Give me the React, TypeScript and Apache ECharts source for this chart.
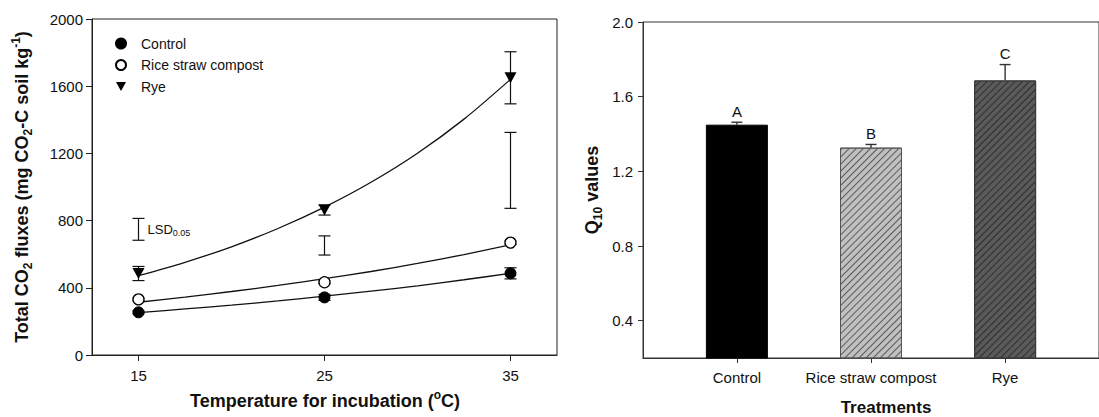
import React, { useEffect, useRef } from "react";
import * as echarts from "echarts";

// ---------- Left panel data ----------
const temps = [15, 25, 35];
const tempTicks = [15, 25, 35];
const controlMean = [254, 343, 486];
const controlErr = [8, 18, 33];
const riceMean = [331, 433, 669];
const riceErr = [8, 8, 10];
const ryeMean = [485, 863, 1650];
const ryeErr = [42, 30, 155];
// fitted exponential curves
const fitTemps = [15, 17.5, 20, 22.5, 25, 27.5, 30, 32.5, 35];
const controlFit = [252, 274, 297, 322, 350, 380, 412, 448, 486];
const riceFit = [314, 344, 378, 414, 454, 497, 545, 598, 656];
const ryeFit = [472, 552, 644, 753, 880, 1028, 1201, 1404, 1641];
// LSD 0.05 bars
const lsdTemps = [15, 25, 35];
const lsdCenter = [748, 652, 1099];
const lsdHalf = [65, 57, 226];

// ---------- Right panel data ----------
const treatments = ["Control", "Rice straw compost", "Rye"];
const q10 = [1.45, 1.327, 1.687];
const q10Err = [0.013, 0.017, 0.085];
const letters = ["A", "B", "C"];
const q10Ticks = [0.4, 0.8, 1.2, 1.6, 2.0];

const FONT = "'Liberation Sans', Arial, sans-serif";
const TXT = "#111";

const errRender = (hw: number) => (params: any, api: any) => {
  const x = api.value(0);
  const y = api.value(1);
  const e = api.value(2);
  const top = api.coord([x, y + e]);
  const bot = api.coord([x, y - e]);
  const st = { stroke: "#111", lineWidth: 1.2 };
  return {
    type: "group",
    children: [
      { type: "line", shape: { x1: top[0], y1: top[1], x2: bot[0], y2: bot[1] }, style: st },
      { type: "line", shape: { x1: top[0] - hw, y1: top[1], x2: top[0] + hw, y2: top[1] }, style: st },
      { type: "line", shape: { x1: bot[0] - hw, y1: bot[1], x2: bot[0] + hw, y2: bot[1] }, style: st },
    ],
  };
};

const lsdRender = (params: any, api: any) => {
  const x = api.value(0);
  const y = api.value(1);
  const e = api.value(2);
  const top = api.coord([x, y + e]);
  const bot = api.coord([x, y - e]);
  const mid = api.coord([x, y]);
  const st = { stroke: "#111", lineWidth: 1.2 };
  const hw = 6;
  const children: any[] = [
    { type: "line", shape: { x1: top[0], y1: top[1], x2: bot[0], y2: bot[1] }, style: st },
    { type: "line", shape: { x1: top[0] - hw, y1: top[1], x2: top[0] + hw, y2: top[1] }, style: st },
    { type: "line", shape: { x1: bot[0] - hw, y1: bot[1], x2: bot[0] + hw, y2: bot[1] }, style: st },
  ];
  if (params.dataIndex === 0) {
    children.push({
      type: "text",
      x: mid[0] + 9,
      y: mid[1],
      style: {
        text: "{m|LSD}{s|0.05}",
        align: "left",
        verticalAlign: "middle",
        rich: {
          m: { fontSize: 13, fontFamily: FONT, fill: TXT, lineHeight: 16, verticalAlign: "middle" },
          s: { fontSize: 9, fontFamily: FONT, fill: TXT, lineHeight: 4, verticalAlign: "bottom" },
        },
      },
    });
  }
  return { type: "group", children };
};

const q10ErrRender = (params: any, api: any) => {
  const x = api.value(0);
  const y = api.value(1);
  const e = api.value(2);
  const top = api.coord([x, y + e]);
  const base = api.coord([x, y]);
  const st = { stroke: "#333", lineWidth: 1.4 };
  const hw = 5.5;
  return {
    type: "group",
    children: [
      { type: "line", shape: { x1: top[0], y1: top[1], x2: base[0], y2: base[1] }, style: st },
      { type: "line", shape: { x1: top[0] - hw, y1: top[1], x2: top[0] + hw, y2: top[1] }, style: st },
      {
        type: "text",
        x: top[0],
        y: top[1] - 11,
        style: {
          text: letters[params.dataIndex],
          fontSize: 15,
          fontFamily: FONT,
          fill: TXT,
          align: "center",
          verticalAlign: "middle",
        },
      },
    ],
  };
};

const titleRich = {
  b: { fontSize: 18, fontWeight: "bold", fontFamily: FONT, fill: TXT, lineHeight: 24, verticalAlign: "middle" },
  s: { fontSize: 12, fontWeight: "bold", fontFamily: FONT, fill: TXT, lineHeight: 12, verticalAlign: "bottom" },
  p: { fontSize: 12, fontWeight: "bold", fontFamily: FONT, fill: TXT, lineHeight: 12, verticalAlign: "top" },
};

const TRI = "path://M0,0 L12,0 L6,11 Z";

export default function App() {
  const ref = useRef<HTMLDivElement>(null);
  useEffect(() => {
    if (!ref.current) return;
    const chart = echarts.init(ref.current, null, { renderer: "svg" });
    const axisLineStyle = { color: "#222", width: 1 };
    const option: any = {
      animation: false,
      backgroundColor: "#fff",
      grid: [
        { left: 92, top: 19, right: 542, bottom: 62, show: true, borderColor: "#222", borderWidth: 1, backgroundColor: "transparent" },
        { left: 643, top: 22, right: -10, bottom: 59, show: true, borderColor: "#333", borderWidth: 1, backgroundColor: "transparent" },
      ],
      legend: {
        left: 115,
        top: 36.5,
        orient: "vertical",
        padding: 0,
        itemWidth: 10,
        itemHeight: 10,
        itemGap: 7.5,
        data: treatments,
        textStyle: { fontSize: 14, color: TXT, fontFamily: FONT, padding: [0, 0, 0, 10] },
      },
      xAxis: [
        {
          gridIndex: 0,
          type: "value",
          min: 12.5,
          max: 37.5,
          axisLine: { show: true, onZero: false, lineStyle: axisLineStyle },
          axisTick: { show: true, length: 6, customValues: tempTicks, lineStyle: axisLineStyle },
          axisLabel: { customValues: tempTicks, fontSize: 15, color: TXT, fontFamily: FONT, margin: 13 },
          splitLine: { show: false },
        },
        {
          gridIndex: 1,
          type: "value",
          min: 0.3,
          max: 3.7,
          axisLine: { show: true, onZero: false, lineStyle: { color: "#333", width: 1 } },
          axisTick: { show: true, length: 5, customValues: [1, 2, 3], lineStyle: { color: "#333" } },
          axisLabel: {
            customValues: [1, 2, 3],
            formatter: (v: number) => treatments[Math.round(v) - 1] || "",
            fontSize: 15,
            color: TXT,
            fontFamily: FONT,
            margin: 12,
          },
          splitLine: { show: false },
        },
      ],
      yAxis: [
        {
          gridIndex: 0,
          type: "value",
          min: 0,
          max: 2000,
          interval: 400,
          axisLine: { show: true, onZero: false, lineStyle: axisLineStyle },
          axisTick: { show: true, length: 6, lineStyle: axisLineStyle },
          axisLabel: { fontSize: 15, color: TXT, fontFamily: FONT, margin: 9, formatter: (v: number) => String(v) },
          splitLine: { show: false },
        },
        {
          gridIndex: 1,
          type: "value",
          min: 0.2,
          max: 2.0,
          interval: 0.2,
          axisLine: { show: true, onZero: false, lineStyle: { color: "#333", width: 1 } },
          axisTick: { show: true, length: 5, customValues: q10Ticks, lineStyle: { color: "#333" } },
          axisLabel: {
            customValues: q10Ticks,
            formatter: (v: number) => v.toFixed(1),
            fontSize: 15,
            color: TXT,
            fontFamily: FONT,
            margin: 10,
          },
          splitLine: { show: false },
        },
      ],
      graphic: [
        {
          type: "text",
          x: 22,
          y: 187,
          rotation: Math.PI / 2,
          style: {
            text: "{b|Total CO}{s|2}{b| fluxes (mg CO}{s|2}{b|-C soil kg}{p|-1}{b|)}",
            rich: titleRich,
            align: "center",
            verticalAlign: "middle",
          },
        },
        {
          type: "text",
          x: 325,
          y: 401,
          style: {
            text: "{b|Temperature for incubation (}{p|o}{b|C)}",
            rich: titleRich,
            align: "center",
            verticalAlign: "middle",
          },
        },
        {
          type: "text",
          x: 592,
          y: 190,
          rotation: Math.PI / 2,
          style: {
            text: "{b|Q}{s|10}{b| values}",
            rich: titleRich,
            align: "center",
            verticalAlign: "middle",
          },
        },
        {
          type: "text",
          x: 886,
          y: 407,
          style: {
            text: "{b|Treatments}",
            rich: { b: { ...titleRich.b, fontSize: 17 } },
            align: "center",
            verticalAlign: "middle",
          },
        },
      ],
      series: [
        // fitted curves
        ...[controlFit, riceFit, ryeFit].map((fit, k) => ({
          name: "fit" + k,
          type: "line",
          xAxisIndex: 0,
          yAxisIndex: 0,
          smooth: 0.3,
          showSymbol: false,
          symbol: "none",
          lineStyle: { color: "#111", width: 1.3 },
          data: fitTemps.map((t, i) => [t, fit[i]]),
          z: 1,
        })),
        // error bars
        ...[
          [controlMean, controlErr],
          [riceMean, riceErr],
          [ryeMean, ryeErr],
        ].map(([m, e], k) => ({
          name: "err" + k,
          type: "custom",
          xAxisIndex: 0,
          yAxisIndex: 0,
          renderItem: errRender(6),
          encode: { x: 0, y: 1 },
          data: temps.map((t, i) => [t, m[i], e[i]]),
          z: 2,
        })),
        {
          name: "lsd",
          type: "custom",
          xAxisIndex: 0,
          yAxisIndex: 0,
          renderItem: lsdRender,
          encode: { x: 0, y: 1 },
          data: lsdTemps.map((t, i) => [t, lsdCenter[i], lsdHalf[i]]),
          z: 2,
        },
        {
          name: "Control",
          type: "scatter",
          xAxisIndex: 0,
          yAxisIndex: 0,
          symbol: "circle",
          symbolSize: 11,
          itemStyle: { color: "#000", borderColor: "#000", borderWidth: 1, opacity: 1 },
          data: temps.map((t, i) => [t, controlMean[i]]),
          z: 3,
        },
        {
          name: "Rice straw compost",
          type: "scatter",
          xAxisIndex: 0,
          yAxisIndex: 0,
          symbol: "circle",
          symbolSize: 11,
          itemStyle: { color: "#fff", borderColor: "#000", borderWidth: 1.3, opacity: 1 },
          data: temps.map((t, i) => [t, riceMean[i]]),
          z: 3,
        },
        {
          name: "Rye",
          type: "scatter",
          xAxisIndex: 0,
          yAxisIndex: 0,
          symbol: TRI,
          symbolSize: [12, 11],
          itemStyle: { color: "#000", opacity: 1 },
          data: temps.map((t, i) => [t, ryeMean[i]]),
          z: 3,
        },
        // right panel bars
        {
          name: "Q10",
          type: "bar",
          xAxisIndex: 1,
          yAxisIndex: 1,
          barWidth: 62,
          data: q10.map((v, i) => ({
            value: [i + 1, v],
            itemStyle: [
              { color: "#000", borderColor: "#000", borderWidth: 1 },
              {
                color: "#c0c0c0",
                borderColor: "#555",
                borderWidth: 1,
                decal: { symbol: "rect", symbolSize: 1, color: "#5a5a5a", dashArrayX: [1, 0], dashArrayY: [1, 4], rotation: -Math.PI / 4 },
              },
              {
                color: "#5a5a5a",
                borderColor: "#3a3a3a",
                borderWidth: 1,
                decal: { symbol: "rect", symbolSize: 1, color: "#2e2e2e", dashArrayX: [1, 0], dashArrayY: [1, 4], rotation: -Math.PI / 4 },
              },
            ][i],
          })),
          z: 2,
        },
        {
          name: "Q10err",
          type: "custom",
          xAxisIndex: 1,
          yAxisIndex: 1,
          renderItem: q10ErrRender,
          encode: { x: 0, y: 1 },
          data: q10.map((v, i) => [i + 1, v, q10Err[i]]),
          z: 3,
        },
      ],
    };
    chart.setOption(option);
    return () => chart.dispose();
  }, []);
  return (
    <div
      ref={ref}
      style={{ position: "absolute", left: 0, top: 0, width: 1099, height: 417, background: "#fff" }}
    />
  );
}
